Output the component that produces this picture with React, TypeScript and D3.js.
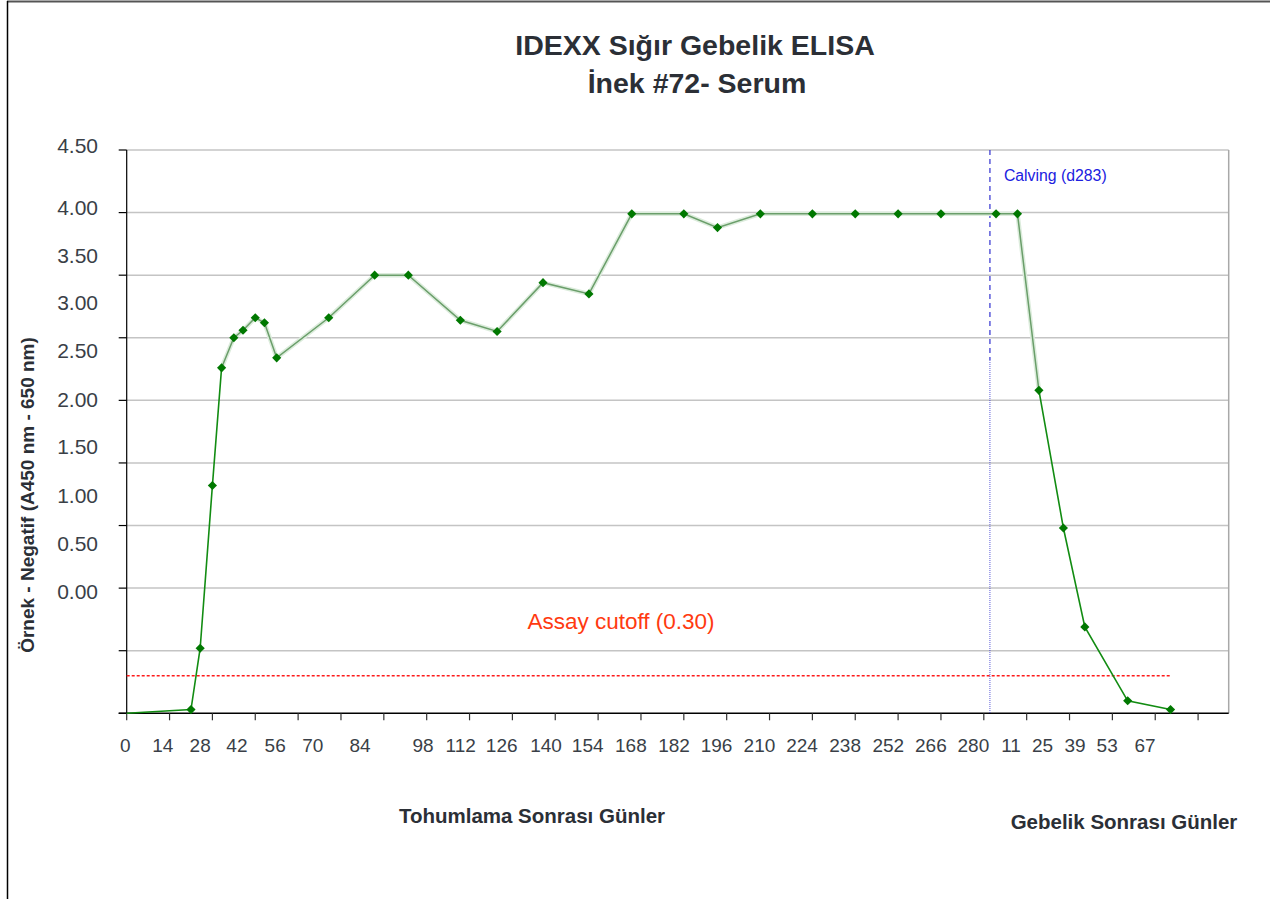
import React, { useEffect, useRef } from 'react';
import * as d3 from 'd3';

// days since insemination (continuous axis, post-calving points continue after d283)
const days = [0, 21, 24, 28, 31, 35, 38, 42, 45, 49, 66, 81, 92, 109, 121, 136, 151, 165, 182, 193, 207, 224, 238, 252, 266, 284, 291, 298, 306, 313, 327, 341];
const values = [0, 0.03, 0.52, 1.82, 2.76, 3.0, 3.06, 3.16, 3.12, 2.84, 3.16, 3.5, 3.5, 3.14, 3.05, 3.44, 3.35, 3.99, 3.99, 3.88, 3.99, 3.99, 3.99, 3.99, 3.99, 3.99, 3.99, 2.58, 1.48, 0.69, 0.1, 0.03];

const yTickLabels = ['4.50', '4.00', '3.50', '3.00', '2.50', '2.00', '1.50', '1.00', '0.50', '0.00'];
const yLabelPos = [4.54, 4.04, 3.66, 3.28, 2.9, 2.51, 2.13, 1.74, 1.36, 0.97];

const xTickLabels = ['0', '14', '28', '42', '56', '70', '84', '98', '112', '126', '140', '154', '168', '182', '196', '210', '224', '238', '252', '266', '280', '11', '25', '39', '53', '67'];
const xLabelPos = [-0.5, 11.8, 24, 36, 48.5, 60.8, 76.2, 96.8, 109.1, 122.5, 137, 150.6, 164.7, 178.8, 192.7, 206.7, 220.6, 234.7, 248.8, 262.7, 276.6, 288.9, 299.2, 309.8, 320.3, 332.7];

const cutoff = 0.3;
const calvingDay = 282;
const calvingLabel = 'Calving (d283)';

const font = 'Liberation Sans, Arial, sans-serif';

function App() {
  const ref = useRef<SVGSVGElement>(null);

  useEffect(() => {
    const svg = d3.select(ref.current);
    svg.selectAll('*').remove();

    const x = d3.scaleLinear().domain([0, 360]).range([126.7, 1228.7]);
    const y = d3.scaleLinear().domain([0, 4.5]).range([713.3, 150]);
    const pts = days.map((d, i) => [d, values[i]] as [number, number]);

    // frame
    svg.append('line').attr('x1', 7).attr('x2', 1270).attr('y1', 1.5).attr('y2', 1.5)
      .attr('stroke', '#555').attr('stroke-width', 2);
    svg.append('line').attr('x1', 7.5).attr('x2', 7.5).attr('y1', 1).attr('y2', 899)
      .attr('stroke', '#000').attr('stroke-width', 1.5);

    // grid
    const gridVals = d3.range(0.5, 4.51, 0.5);
    svg.append('g').selectAll('line').data(gridVals).enter().append('line')
      .attr('x1', x(0)).attr('x2', x(360))
      .attr('y1', d => y(d)).attr('y2', d => y(d))
      .attr('stroke', '#c4c4c4').attr('stroke-width', 1.5);
    svg.append('line').attr('x1', x(360)).attr('x2', x(360)).attr('y1', y(4.5)).attr('y2', y(0))
      .attr('stroke', '#a8a8a8').attr('stroke-width', 1.5);

    // axes
    svg.append('line').attr('x1', x(0)).attr('x2', x(0)).attr('y1', y(4.5)).attr('y2', y(0))
      .attr('stroke', '#000').attr('stroke-width', 1.2);
    svg.append('g').selectAll('line').data(d3.range(0, 4.51, 0.5)).enter().append('line')
      .attr('x1', x(0) - 8).attr('x2', x(0))
      .attr('y1', d => y(d)).attr('y2', d => y(d))
      .attr('stroke', '#000').attr('stroke-width', 1.2);
    svg.append('line').attr('x1', x(0) - 8).attr('x2', x(360)).attr('y1', y(0)).attr('y2', y(0))
      .attr('stroke', '#000').attr('stroke-width', 1.5);
    svg.append('g').selectAll('line').data(d3.range(0, 351, 14)).enter().append('line')
      .attr('x1', d => x(d)).attr('x2', d => x(d))
      .attr('y1', y(0)).attr('y2', y(0) + 7)
      .attr('stroke', '#333').attr('stroke-width', 1.2);

    svg.append('g').selectAll('text').data(yTickLabels).enter().append('text')
      .attr('x', 98).attr('y', (d, i) => y(yLabelPos[i]))
      .attr('dy', '0.36em').attr('text-anchor', 'end')
      .attr('font-family', font).attr('font-size', 21).attr('fill', '#3a3f47')
      .text(d => d);
    svg.append('g').selectAll('text').data(xTickLabels).enter().append('text')
      .attr('x', (d, i) => x(xLabelPos[i])).attr('y', 752)
      .attr('text-anchor', 'middle')
      .attr('font-family', font).attr('font-size', 19).attr('fill', '#3a3f47')
      .text(d => d);

    // cutoff
    svg.append('line').attr('x1', x(0)).attr('x2', x(days[days.length - 1]))
      .attr('y1', y(cutoff)).attr('y2', y(cutoff))
      .attr('stroke', '#ff1a1a').attr('stroke-width', 1.5).attr('stroke-dasharray', '3,2');
    svg.append('text').attr('x', 621).attr('y', 629).attr('text-anchor', 'middle')
      .attr('font-family', font).attr('font-size', 22.5).attr('fill', '#ff3a10')
      .text('Assay cutoff (' + cutoff.toFixed(2) + ')');

    // calving
    svg.append('line').attr('x1', x(calvingDay)).attr('x2', x(calvingDay))
      .attr('y1', y(4.5)).attr('y2', 360)
      .attr('stroke', '#3030d0').attr('stroke-width', 1.2).attr('stroke-dasharray', '5,4');
    svg.append('line').attr('x1', x(calvingDay)).attr('x2', x(calvingDay))
      .attr('y1', 360).attr('y2', y(0))
      .attr('stroke', '#3030d0').attr('stroke-width', 0.8).attr('stroke-dasharray', '1,1');
    svg.append('text').attr('x', x(calvingDay) + 14).attr('y', 181)
      .attr('font-family', font).attr('font-size', 15.8).attr('fill', '#2020e0')
      .text(calvingLabel);

    // series
    const line = d3.line().x(d => x(d[0])).y(d => y(d[1]));
    const mid = pts.slice(4, 28);
    svg.append('path').attr('d', line(pts)).attr('fill', 'none')
      .attr('stroke', '#128c12').attr('stroke-width', 1.6);
    svg.append('path').attr('d', line(mid)).attr('fill', 'none')
      .attr('stroke', '#dcecdc').attr('stroke-width', 4.5);
    svg.append('path').attr('d', line(mid)).attr('fill', 'none')
      .attr('stroke', '#6a9e6a').attr('stroke-width', 1.5);

    const sym = d3.symbol().type(d3.symbolSquare).size(42);
    svg.append('g').selectAll('path').data(pts.slice(1)).enter().append('path')
      .attr('d', sym())
      .attr('transform', d => `translate(${x(d[0])},${y(d[1])}) rotate(45)`)
      .attr('fill', '#007800');

    // titles
    const title = svg.append('text').attr('text-anchor', 'middle')
      .attr('font-family', font).attr('font-weight', 'bold').attr('font-size', 28.5).attr('fill', '#2b2f36');
    title.append('tspan').attr('x', 695).attr('y', 55).text('IDEXX Sığır Gebelik ELISA');
    title.append('tspan').attr('x', 697).attr('y', 93).text('İnek #72- Serum');

    svg.append('text').attr('transform', 'translate(34,495) rotate(-90)').attr('text-anchor', 'middle')
      .attr('font-family', font).attr('font-weight', 'bold').attr('font-size', 19).attr('fill', '#2b2f36')
      .text('Örnek - Negatif (A450 nm - 650 nm)');
    svg.append('text').attr('x', 532).attr('y', 823).attr('text-anchor', 'middle')
      .attr('font-family', font).attr('font-weight', 'bold').attr('font-size', 20.5).attr('fill', '#2b2f36')
      .text('Tohumlama Sonrası Günler');
    svg.append('text').attr('x', 1124).attr('y', 829).attr('text-anchor', 'middle')
      .attr('font-family', font).attr('font-weight', 'bold').attr('font-size', 20.5).attr('fill', '#2b2f36')
      .text('Gebelik Sonrası Günler');
  }, []);

  return (
    <svg ref={ref} width={1270} height={899}
      style={{ position: 'absolute', left: 0, top: 0, background: '#fff' }} />
  );
}

export default App;
